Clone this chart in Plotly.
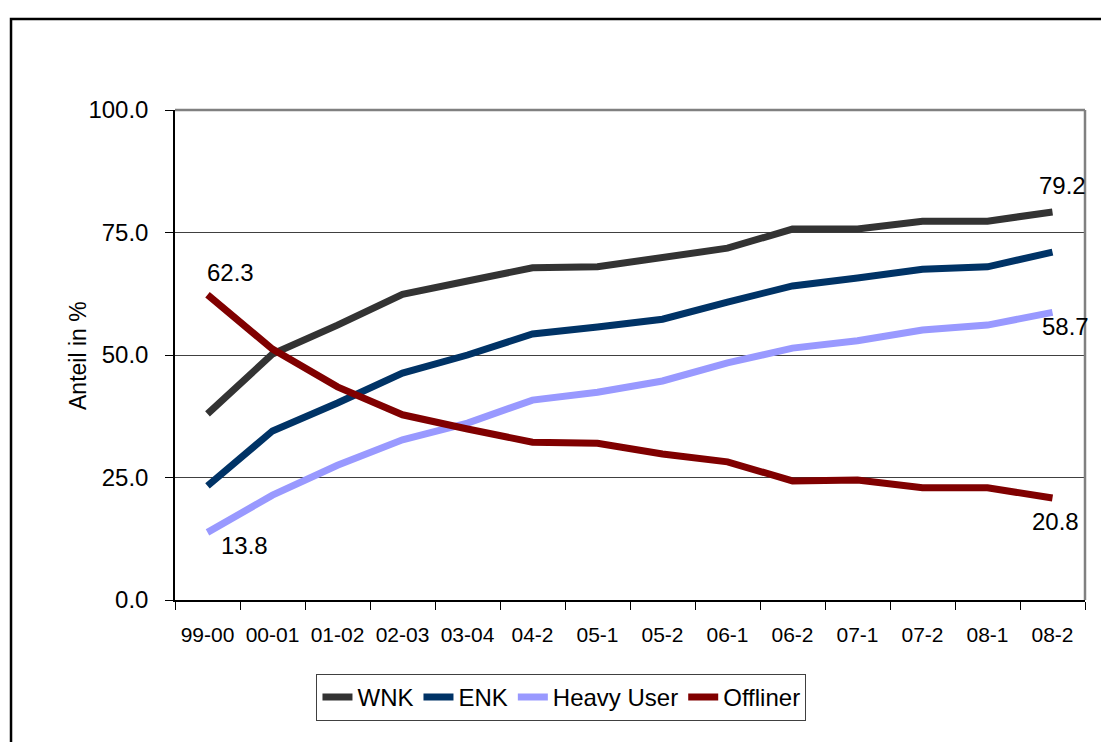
import plotly.graph_objects as go

categories = ["99-00", "00-01", "01-02", "02-03", "03-04", "04-2", "05-1", "05-2",
              "06-1", "06-2", "07-1", "07-2", "08-1", "08-2"]
wnk = [38.0, 50.2, 56.1, 62.4, 65.1, 67.8, 68.0, 70.0, 71.8, 75.7, 75.7, 77.3, 77.3, 79.2]
enk = [23.3, 34.5, 40.2, 46.3, 50.0, 54.3, 55.7, 57.3, 60.8, 64.1, 65.7, 67.5, 68.0, 71.0]
heavy = [13.8, 21.4, 27.5, 32.7, 36.1, 40.8, 42.4, 44.7, 48.4, 51.4, 52.9, 55.1, 56.1, 58.7]
offliner = [62.3, 51.2, 43.5, 37.8, 34.9, 32.2, 32.0, 29.8, 28.2, 24.3, 24.5, 22.9, 22.9, 20.8]
y_ticks = [0, 25, 50, 75, 100]

series = [
    ("WNK", wnk, "#333333"),
    ("ENK", enk, "#003366"),
    ("Heavy User", heavy, "#9999FF"),
    ("Offliner", offliner, "#800000"),
]

FONT = "Arial, Liberation Sans, sans-serif"

fig = go.Figure()
for name, vals, col in series:
    fig.add_trace(go.Scatter(x=categories, y=vals, name=name, mode="lines",
                             line=dict(color=col, width=7), hoverinfo="skip"))

# data labels: (category, value, xshift, yshift)
labels = [
    (categories[0], offliner[0], 23, 22),
    (categories[0], heavy[0], 37, -13),
    (categories[-1], wnk[-1], 10, 26),
    (categories[-1], heavy[-1], 13, -14),
    (categories[-1], offliner[-1], 3, -23),
]
annotations = []
for x, y, xs, ys in labels:
    annotations.append(dict(x=x, y=y, xref="x", yref="y", text=f"{y:.1f}", showarrow=False,
                            xanchor="center", yanchor="middle",
                            xshift=xs, yshift=ys, font=dict(size=24, color="black", family=FONT)))
annotations.append(dict(x=-0.1066, y=0.5, xref="paper", yref="paper", text="Anteil in %",
                        textangle=-90, showarrow=False, xanchor="center", yanchor="middle",
                        font=dict(size=23, color="black", family=FONT)))

shapes = [
    # outer chart border (extends beyond image right/bottom)
    dict(type="rect", xref="paper", yref="paper", x0=-0.1802, x1=1.06, y0=-0.4, y1=1.1857,
         line=dict(color="black", width=2.5), fillcolor="rgba(0,0,0,0)", layer="below"),
    # plot area frame top and right in gray
    dict(type="line", xref="paper", yref="paper", x0=0, x1=1, y0=1, y1=1,
         line=dict(color="#808080", width=2.5)),
    dict(type="line", xref="paper", yref="paper", x0=1, x1=1, y0=0, y1=1,
         line=dict(color="#808080", width=2.5)),
]

fig.update_layout(
    width=1101, height=742,
    margin=dict(l=175, r=16, t=110, b=142),
    paper_bgcolor="white", plot_bgcolor="white",
    font=dict(family=FONT, size=22, color="black"),
    showlegend=True,
    legend=dict(orientation="h", x=0.4247, xanchor="center", y=-0.151, yanchor="top",
                bordercolor="#404040", borderwidth=1, bgcolor="white",
                font=dict(size=24, family=FONT), itemwidth=30, tracegroupgap=0),
    xaxis=dict(type="category", range=[-0.5, 13.5], tickson="boundaries", ticks="outside",
               ticklen=8, tickcolor="black", tickwidth=1, showline=True, linecolor="black",
               linewidth=1.5, showgrid=False, zeroline=False, ticklabelstandoff=15,
               tickangle=0, tickfont=dict(size=21, family=FONT)),
    yaxis=dict(range=[0, 100], tickvals=y_ticks, tickformat=".1f", ticks="outside",
               ticklen=8, tickcolor="black", tickwidth=1, showline=True, linecolor="black",
               linewidth=1.5, showgrid=True, gridcolor="#404040", gridwidth=1,
               zeroline=False, ticklabelstandoff=12, tickfont=dict(size=24, family=FONT)),
    annotations=annotations,
    shapes=shapes,
)

fig.write_html("out.html", config={"displayModeBar": False},
               post_script="document.body.style.margin='0px';")
